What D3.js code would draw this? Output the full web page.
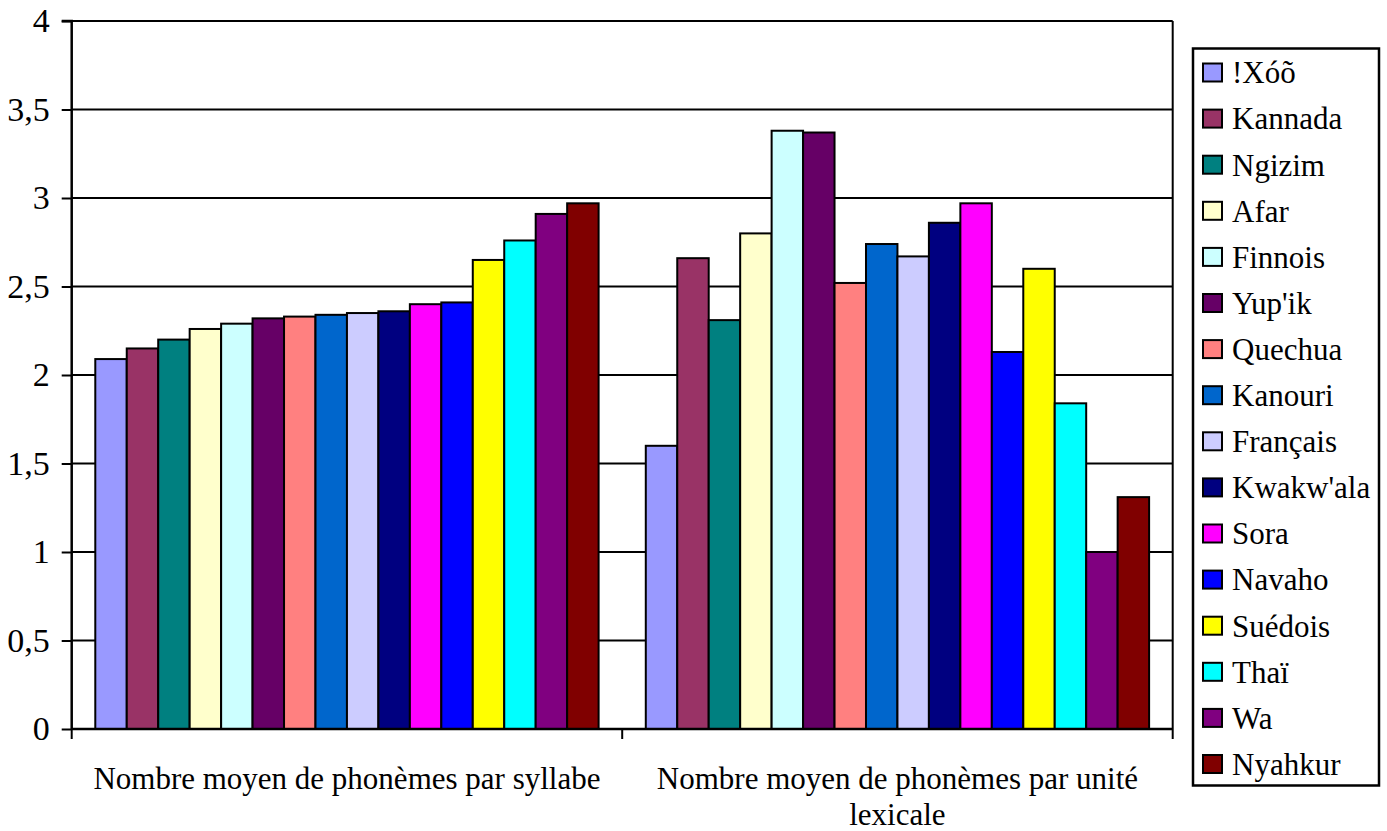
<!DOCTYPE html>
<html><head><meta charset="utf-8">
<script src="https://cdn.jsdelivr.net/npm/d3@7"></script>
<style>
body{margin:0;background:#fff;}
svg{display:block;}
svg text{font-family:"Liberation Serif","Times New Roman",Times,"DejaVu Serif","Noto Serif",serif;}
</style></head>
<body><svg id="c" width="1387" height="831"></svg>
<script>
const categories = ["Nombre moyen de phonèmes par syllabe", "Nombre moyen de phonèmes par unité lexicale"];
const languages = ["!Xóõ","Kannada","Ngizim","Afar","Finnois","Yup'ik","Quechua","Kanouri","Français","Kwakw'ala","Sora","Navaho","Suédois","Thaï","Wa","Nyahkur"];
const colors = ["#9999FF","#993366","#008080","#FFFFCC","#CCFFFF","#660066","#FF8080","#0066CC","#CCCCFF","#000080","#FF00FF","#0000FF","#FFFF00","#00FFFF","#800080","#800000"];
const perSyllable = [2.09,2.15,2.20,2.26,2.29,2.32,2.33,2.34,2.35,2.36,2.40,2.41,2.65,2.76,2.91,2.97];
const perWord = [1.60,2.66,2.31,2.80,3.38,3.37,2.52,2.74,2.67,2.86,2.97,2.13,2.60,1.84,1.00,1.31];
const yTicks = [0,0.5,1,1.5,2,2.5,3,3.5,4];

const series = [perSyllable, perWord];
const svg = d3.select("#c");
const L = 71.7, R = 1172.7, T = 21, B = 729;

const x0 = d3.scaleBand().domain(categories).range([L, R]).padding(0);
const x1 = d3.scaleBand().domain(languages).range([0, x0.bandwidth()]).paddingInner(0).paddingOuter(0.75);
const y = d3.scaleLinear().domain([0, 4]).range([B, T]);
const color = d3.scaleOrdinal().domain(languages).range(colors);

// gridlines
svg.append("g").selectAll("line").data(yTicks.filter(d => d > 0)).join("line")
  .attr("x1", L).attr("x2", R).attr("y1", d => y(d)).attr("y2", d => y(d))
  .attr("stroke", "#000").attr("stroke-width", 2);
// right border
svg.append("line").attr("x1", R).attr("x2", R).attr("y1", T).attr("y2", B)
  .attr("stroke", "#000").attr("stroke-width", 2);

// bars
const groups = svg.append("g").selectAll("g").data(categories).join("g")
  .attr("transform", d => `translate(${x0(d)},0)`);
groups.selectAll("rect").data((c, ci) => languages.map((l, li) => ({lang: l, v: series[ci][li]}))).join("rect")
  .attr("x", d => x1(d.lang)).attr("width", x1.bandwidth())
  .attr("y", d => y(d.v)).attr("height", d => y(0) - y(d.v))
  .attr("fill", d => color(d.lang)).attr("stroke", "#000").attr("stroke-width", 2);

// y axis
const yAxis = d3.axisLeft(y).tickValues(yTicks).tickSize(10).tickPadding(12)
  .tickFormat(d => String(d).replace(".", ","));
const ya = svg.append("g").attr("transform", `translate(${L},0)`).call(yAxis);
ya.attr("font-family", null).attr("font-size", null);
ya.select(".domain").attr("stroke", "#000").attr("stroke-width", 2.5).attr("d", `M-10,${T}H0V${B}`);
ya.selectAll(".tick line").attr("stroke", "#000").attr("stroke-width", 2);
ya.selectAll(".tick text").attr("font-size", 34).attr("fill", "#000");

// x axis
const xAxis = d3.axisBottom(x0).tickValues([]).tickSizeOuter(0);
const xa = svg.append("g").attr("transform", `translate(0,${B})`).call(xAxis);
xa.select(".domain").attr("stroke", "#000").attr("stroke-width", 2.5).attr("d", `M${L},0H${R}`);
const boundaries = [L, R].concat(categories.slice(1).map(c => x0(c)));
xa.selectAll("line.sep").data(boundaries).join("line").attr("class", "sep")
  .attr("x1", d => d).attr("x2", d => d).attr("y1", 0).attr("y2", 10)
  .attr("stroke", "#000").attr("stroke-width", 2);

// category labels with wrapping
const labG = svg.append("g");
categories.forEach(c => {
  const cx = x0(c) + x0.bandwidth() / 2;
  const t = labG.append("text").attr("x", cx).attr("y", 789).attr("text-anchor", "middle")
    .attr("font-size", 31).attr("fill", "#000");
  const words = c.split(" ");
  let line = [], ts = t.append("tspan").attr("x", cx).attr("dy", 0);
  words.forEach(w => {
    line.push(w);
    ts.text(line.join(" "));
    if (ts.node().getComputedTextLength() > 530 && line.length > 1) {
      line.pop(); ts.text(line.join(" "));
      line = [w];
      ts = t.append("tspan").attr("x", cx).attr("dy", 36).text(w);
    }
  });
});

// legend
const lg = svg.append("g");
lg.append("rect").attr("x", 1193).attr("y", 48.5).attr("width", 186).attr("height", 737)
  .attr("fill", "#fff").attr("stroke", "#000").attr("stroke-width", 2.5);
const li = lg.selectAll("g.item").data(languages).join("g").attr("class", "item")
  .attr("transform", (d, i) => `translate(1203,${72.5 + i * 46.1})`);
li.append("rect").attr("x", 0).attr("y", -9).attr("width", 19).attr("height", 18)
  .attr("fill", d => color(d)).attr("stroke", "#000").attr("stroke-width", 2);
li.append("text").attr("x", 29).attr("y", 0).attr("dy", "0.35em")
  .attr("font-size", 31).attr("fill", "#000").text(d => d);
</script></body></html>
